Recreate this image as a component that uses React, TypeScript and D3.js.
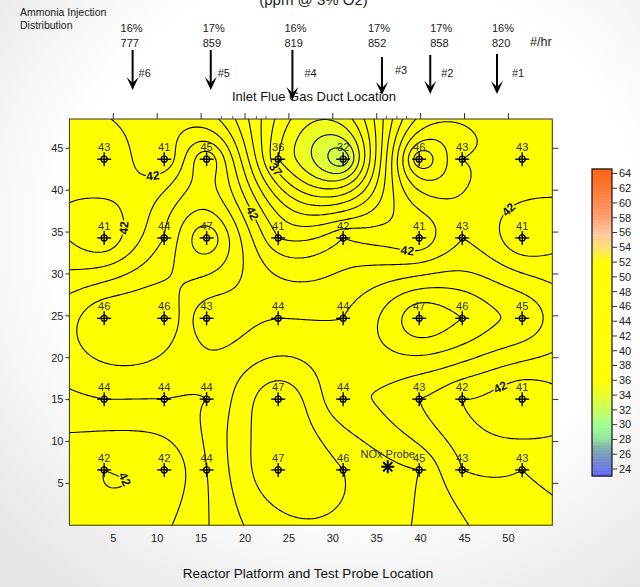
import React, { useMemo } from "react";
import * as d3 from "d3";

// probe grid (ft) and NOx readings, rows from top (duct inlet side) to bottom
const probeX = [3.96, 10.8, 15.63, 23.78, 31.18, 39.84, 44.74, 51.57];
const probeY = [43.7, 34.3, 24.7, 15.05, 6.6];
const row1 = [43, 41, 45, 36, 32, 46, 43, 43];
const row2 = [41, 44, 47, 41, 42, 41, 43, 41];
const row3 = [46, 46, 43, 44, 44, 47, 46, 45];
const row4 = [44, 44, 44, 47, 44, 43, 42, 41];
const row5 = [42, 42, 44, 47, 46, 45, 43, 43];
const rows = [row1, row2, row3, row4, row5];

// ammonia injectors
const injectorX = [7.2, 16.1, 25.4, 35.6, 41.1, 48.7];
const injectorName = ["#6", "#5", "#4", "#3", "#2", "#1"];
const injectorPct = ["16%", "17%", "16%", "17%", "17%", "16%"];
const injectorFlow = [777, 859, 819, 852, 858, 820];

const noxProbe = [36.26, 6.98];

const xTicks = [5, 10, 15, 20, 25, 30, 35, 40, 45, 50];
const yTicks = [5, 10, 15, 20, 25, 30, 35, 40, 45];
const topMinor = [17.3, 18.6, 21.3, 22.4, 36.1, 37.3, 38.4];
const colorTicks = [24, 26, 28, 30, 32, 34, 36, 38, 40, 42, 44, 46, 48, 50, 52, 54, 56, 58, 60, 62, 64];

// contour labels: level and rough spot where they sit
const labelLevel = [42, 42, 42, 37, 42, 42, 42, 42];
const labelX = [9.4, 5.2, 21.1, 24.0, 38.7, 49.5, 9.1, 49.1];
const labelY = [41.8, 35.5, 37.5, 42.8, 33.6, 38.3, 8.0, 16.4];

const colorStops = [23, 25, 27, 28, 30, 32, 34, 36, 52, 54, 56, 58, 61, 64.6];
const colorRange = ["#6464ff", "#7088d0", "#80b0a8", "#90e0a0", "#a0ff90", "#c6ff5c", "#e8ff2c", "#ffff00", "#ffff00", "#ffe070", "#ffc8a0", "#ffa070", "#ff8040", "#ff6010"];

const W = 640, H = 587;
const L = 69.4, R = 552.3, T = 119, B = 525.2;
const font = "'Liberation Sans', Arial, sans-serif";

// ordinary kriging, linear variogram
function krige(pts: number[][]) {
  const n = pts.length;
  const A = [];
  for (let i = 0; i <= n; i++) {
    const r = new Array(n + 2).fill(0);
    for (let j = 0; j < n; j++) {
      r[j] = i < n ? Math.hypot(pts[i][0] - pts[j][0], pts[i][1] - pts[j][1]) : 1;
    }
    r[n] = i < n ? 1 : 0;
    r[n + 1] = i < n ? pts[i][2] : 0;
    A.push(r);
  }
  const m = n + 1;
  for (let c = 0; c < m; c++) {
    let p = c;
    for (let r = c + 1; r < m; r++) if (Math.abs(A[r][c]) > Math.abs(A[p][c])) p = r;
    [A[c], A[p]] = [A[p], A[c]];
    for (let r = 0; r < m; r++) {
      if (r === c) continue;
      const f = A[r][c] / A[c][c];
      for (let k = c; k <= m; k++) A[r][k] -= f * A[c][k];
    }
  }
  const w = A.map((r, i) => r[m] / r[i]);
  return (x: number, y: number) => {
    let s = w[n];
    for (let i = 0; i < n; i++) s += w[i] * Math.hypot(x - pts[i][0], y - pts[i][1]);
    return s;
  };
}

export default function App() {
  const x = d3.scaleLinear().domain([0, 55]).range([L, R]);
  const y = d3.scaleLinear().domain([0, 48.5]).range([B, T]);
  const color = d3.scaleLinear<string>().domain(colorStops).range(colorRange).interpolate(d3.interpolateRgb);
  const cb = d3.scaleLinear().domain([23.05, 64.6]).range([476, 169]);

  const res = useMemo(() => {
    const pts: number[][] = [];
    probeY.forEach((py, r) => probeX.forEach((px, c) => pts.push([px, py, rows[r][c]])));
    const f = krige(pts);
    const step = 0.25, gx0 = -1, gy0 = -1;
    const nx = Math.round(57 / step) + 1, ny = Math.round(50.5 / step) + 1;
    const values = new Array(nx * ny);
    for (let j = 0; j < ny; j++)
      for (let i = 0; i < nx; i++) values[i + j * nx] = f(gx0 + i * step, gy0 + j * step);
    const toPx = (px: number, py: number) => [x(gx0 + (px - 0.5) * step), y(gy0 + (py - 0.5) * step)];
    const proj = d3.geoTransform({
      point(px: number, py: number) {
        const p = toPx(px, py);
        (this as any).stream.point(p[0], p[1]);
      },
    });
    const path = d3.geoPath(proj);
    const gen = d3.contours().size([nx, ny]);
    const bands = gen.thresholds(d3.range(23, 65, 0.25))(values).filter((c) => c.coordinates.length);
    const lines = d3.contours().size([nx, ny]).thresholds(d3.range(30, 50, 1))(values).filter((c) => c.coordinates.length);

    const labels = labelLevel.map((lev, k) => {
      const c = gen.contour(values, lev);
      const tx = x(labelX[k]), ty = y(labelY[k]);
      let best: any = null;
      c.coordinates.forEach((poly) => poly.forEach((ring) => {
        const pr = ring.map((p) => toPx(p[0], p[1]));
        pr.forEach((p, i) => {
          const d = Math.hypot(p[0] - tx, p[1] - ty);
          if (!best || d < best.d) {
            const a = pr[Math.max(0, i - 3)], b = pr[Math.min(pr.length - 1, i + 3)];
            best = { d, p, ang: (Math.atan2(b[1] - a[1], b[0] - a[0]) * 180) / Math.PI };
          }
        });
      }));
      if (!best) return { x: tx, y: ty, ang: 0, lev };
      let ang = best.ang;
      if (ang > 90) ang -= 180;
      if (ang < -90) ang += 180;
      return { x: best.p[0], y: best.p[1], ang, lev };
    });
    return { bands, lines, path, labels };
  }, []);

  const arrowTop = [50, 50, 50, 57, 55, 54];
  const arrowTip = [90, 90, 100, 95, 94, 94];
  const pctDx = [-12, -8, -8, -14, 0, -5];
  const tagDx = [6, 7, 12, 13, 11, 15];
  const tagY = [77, 77, 77, 74, 77, 77];

  const cbCells = d3.range(23.05, 64.6, 0.1);

  return (
    <svg width={W} height={H} style={{ position: "absolute", left: 0, top: 0 }} fontFamily={font}>
      <defs>
        <radialGradient id="bg" cx="55%" cy="40%" r="75%">
          <stop offset="0.6" stopColor="#ffffff" />
          <stop offset="1" stopColor="#e6e6e6" />
        </radialGradient>
        <clipPath id="plot">
          <rect x={L} y={T} width={R - L} height={B - T} />
        </clipPath>
      </defs>
      <rect width={W} height={H} fill="url(#bg)" />

      <text x={313.5} y={4.5} textAnchor="middle" fontSize={15} fill="#222">(ppm @ 3% O2)</text>
      <text x={20} y={15.5} fontSize={10.5} fill="#222">Ammonia Injection</text>
      <text x={20} y={29} fontSize={10.5} fill="#222">Distribution</text>
      <text x={530} y={46} fontSize={12.5} fill="#222">#/hr</text>

      {injectorX.map((d, i) => {
        const ax = x(d);
        return (
          <g key={i}>
            <text x={ax + pctDx[i]} y={32} fontSize={11} fill="#222">{injectorPct[i]}</text>
            <text x={ax + pctDx[i]} y={46.5} fontSize={11} fill="#222">{injectorFlow[i]}</text>
            <line x1={ax} x2={ax} y1={arrowTop[i]} y2={arrowTip[i] - 4} stroke="#000" strokeWidth={2} />
            <path d={`M${ax},${arrowTip[i]} L${ax - 6},${arrowTip[i] - 13} L${ax},${arrowTip[i] - 7} L${ax + 6},${arrowTip[i] - 13} Z`} fill="#000" />
            <text x={ax + tagDx[i]} y={tagY[i]} fontSize={11} fill="#222">{injectorName[i]}</text>
          </g>
        );
      })}

      <text x={314} y={101} textAnchor="middle" fontSize={13} fill="#111">Inlet Flue Gas Duct Location</text>

      <g clipPath="url(#plot)">
        <rect x={L} y={T} width={R - L} height={B - T} fill={color(40)} />
        {res.bands.map((c, i) => (
          <path key={i} d={res.path(c as any) || ""} fill={color(c.value + 0.125)} stroke={color(c.value + 0.125)} strokeWidth={0.3} />
        ))}
        {res.lines.map((c, i) => (
          <path key={i} d={res.path(c as any) || ""} fill="none" stroke="#000" strokeWidth={1.1} />
        ))}
        {res.labels.map((l, i) => (
          <text key={i} transform={`translate(${l.x},${l.y}) rotate(${l.ang})`} textAnchor="middle" dy="0.36em"
            fontSize={12} fontWeight="bold" fill="#111" stroke="#ffff00" strokeWidth={3} paintOrder="stroke">{l.lev}</text>
        ))}
      </g>
      <rect x={L} y={T} width={R - L} height={B - T} fill="none" stroke="#333" strokeWidth={1} />

      {/* axes */}
      {xTicks.map((t) => (
        <g key={t}>
          <line x1={x(t)} x2={x(t)} y1={T} y2={T - 6} stroke="#333" />
          <text x={x(t)} y={542} textAnchor="middle" fontSize={11} fill="#222">{t}</text>
        </g>
      ))}
      {topMinor.map((t) => (
        <line key={t} x1={x(t)} x2={x(t)} y1={T} y2={T - 3} stroke="#555" />
      ))}
      {yTicks.map((t) => (
        <g key={t}>
          <line x1={L - 4} x2={L} y1={y(t)} y2={y(t)} stroke="#333" />
          <line x1={R} x2={R + 6} y1={y(t)} y2={y(t)} stroke="#333" />
          <text x={63.5} y={y(t)} dy="0.35em" textAnchor="end" fontSize={11} fill="#222">{t}</text>
        </g>
      ))}
      <text x={308} y={578} textAnchor="middle" fontSize={13.5} fill="#111">Reactor Platform and Test Probe Location</text>

      {/* probes */}
      {rows.map((row, r) => row.map((v, c) => {
        const px = x(probeX[c]), py = y(probeY[r]);
        return (
          <g key={`${r}-${c}`}>
            <line x1={px - 7} x2={px + 7} y1={py} y2={py} stroke="#000" strokeWidth={1.4} />
            <line x1={px} x2={px} y1={py - 7} y2={py + 7} stroke="#000" strokeWidth={1.4} />
            <circle cx={px} cy={py} r={3} fill="none" stroke="#000" strokeWidth={1.3} />
            <text x={px} y={py - 8} textAnchor="middle" fontSize={11} fill="#333">{v}</text>
          </g>
        );
      }))}
      <g transform={`translate(${x(noxProbe[0])},${y(noxProbe[1])})`}>
        {[0, 45, 90, 135].map((a) => (
          <line key={a} x1={-6.5} x2={6.5} y1={0} y2={0} transform={`rotate(${a})`} stroke="#000" strokeWidth={2} />
        ))}
        <text x={0} y={-8.5} textAnchor="middle" fontSize={11} fill="#333">NOx Probe</text>
      </g>

      {/* colour bar */}
      {cbCells.map((v, i) => (
        <rect key={i} x={592} y={cb(v + 0.1)} width={20} height={Math.abs(cb(v) - cb(v + 0.1)) + 0.5} fill={color(v + 0.05)} />
      ))}
      <rect x={592} y={169} width={20} height={307} fill="none" stroke="#111" strokeWidth={1.2} />
      {colorTicks.map((t) => (
        <g key={t}>
          <line x1={612} x2={617} y1={cb(t)} y2={cb(t)} stroke="#333" />
          <text x={619} y={cb(t)} dy="0.35em" fontSize={11} fill="#222">{t}</text>
        </g>
      ))}
    </svg>
  );
}
